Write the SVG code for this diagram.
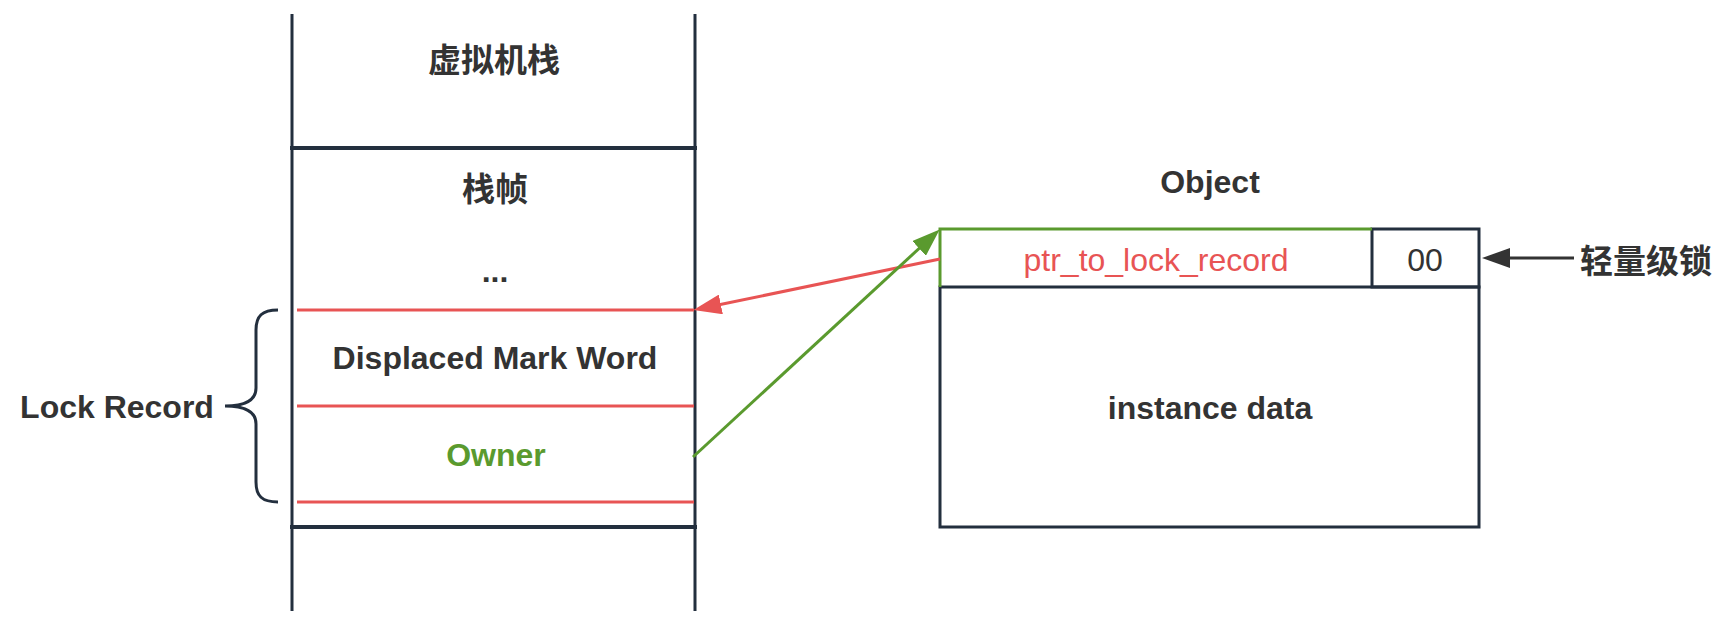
<svg xmlns="http://www.w3.org/2000/svg" width="1736" height="626" viewBox="0 0 1736 626">
<style>
.t{font-family:"Liberation Sans","Noto Sans CJK SC",sans-serif;font-size:32px;fill:#333333;text-anchor:middle;dominant-baseline:central}
.b{font-weight:bold}
.cjk{font-family:"Noto Sans CJK SC",sans-serif;font-size:33px;font-weight:bold}
.dark{stroke:#232F3E;fill:none;stroke-width:3}
.sep{stroke:#232F3E;fill:none;stroke-width:4}
.red{stroke:#E85454;fill:none;stroke-width:3}
.grn{stroke:#5A9A2E;fill:none;stroke-width:3}
.blk{stroke:#333333;fill:none;stroke-width:3}
</style>
<defs>
<marker id="ar" markerUnits="userSpaceOnUse" viewBox="0 0 28 20" markerWidth="28" markerHeight="20" refX="8" refY="10" orient="auto"><path d="M0,0 L28,10 L0,20 z" fill="#E85454"/></marker>
<marker id="ag" markerUnits="userSpaceOnUse" viewBox="0 0 28 20" markerWidth="28" markerHeight="20" refX="8" refY="10" orient="auto"><path d="M0,0 L28,10 L0,20 z" fill="#5A9A2E"/></marker>
<marker id="ak" markerUnits="userSpaceOnUse" viewBox="0 0 28 20" markerWidth="28" markerHeight="20" refX="8" refY="10" orient="auto"><path d="M0,0 L28,10 L0,20 z" fill="#333333"/></marker>
</defs>
<rect width="1736" height="626" fill="#ffffff"/>
<g id="stack">
<line class="dark" x1="292" y1="14" x2="292" y2="611"/>
<line class="dark" x1="695" y1="14" x2="695" y2="611"/>
<line class="sep" x1="290" y1="148" x2="697" y2="148"/>
<line class="sep" x1="290" y1="527" x2="697" y2="527"/>
<text class="t cjk" x="494" y="58">虚拟机栈</text>
<text class="t cjk" x="495" y="187">栈帧</text>
<text class="t b" x="495" y="282" style="dominant-baseline:auto">...</text>
</g>
<g id="lock-record">
<line class="red" x1="297" y1="310" x2="694" y2="310"/>
<line class="red" x1="297" y1="406" x2="694" y2="406"/>
<line class="red" x1="297" y1="502" x2="694" y2="502"/>
<text class="t b" x="495" y="358">Displaced Mark Word</text>
<text class="t b" x="496" y="455" style="fill:#5A9A2E">Owner</text>
</g>
<g id="brace">
<path class="dark" d="M278,310 C262,310 256,316 256,330 L256,388 C256,400 245,406 225,406 C245,406 256,412 256,424 L256,482 C256,496 262,502 278,502"/>
<text class="t b" x="117" y="407">Lock Record</text>
</g>
<g id="object">
<text class="t b" x="1210" y="182">Object</text>
<rect class="dark" x="940" y="287" width="539" height="240"/>
<rect class="dark" x="1372" y="229" width="107" height="58"/>
<path class="grn" d="M940,287 V229 H1372"/>
<text class="t" x="1156" y="260" style="fill:#E85454">ptr_to_lock_record</text>
<text class="t" x="1425" y="260">00</text>
<text class="t b" x="1210" y="408">instance data</text>
</g>
<g id="light-lock-label">
<text class="t cjk" x="1646" y="259">轻量级锁</text>
</g>
<g id="connectors">
<line class="red" x1="940" y1="259" x2="713" y2="306" marker-end="url(#ar)"/>
<line class="grn" x1="693" y1="457" x2="925" y2="243" marker-end="url(#ag)"/>
<line class="blk" x1="1574" y1="258" x2="1502" y2="258" marker-end="url(#ak)"/>
</g>
</svg>
